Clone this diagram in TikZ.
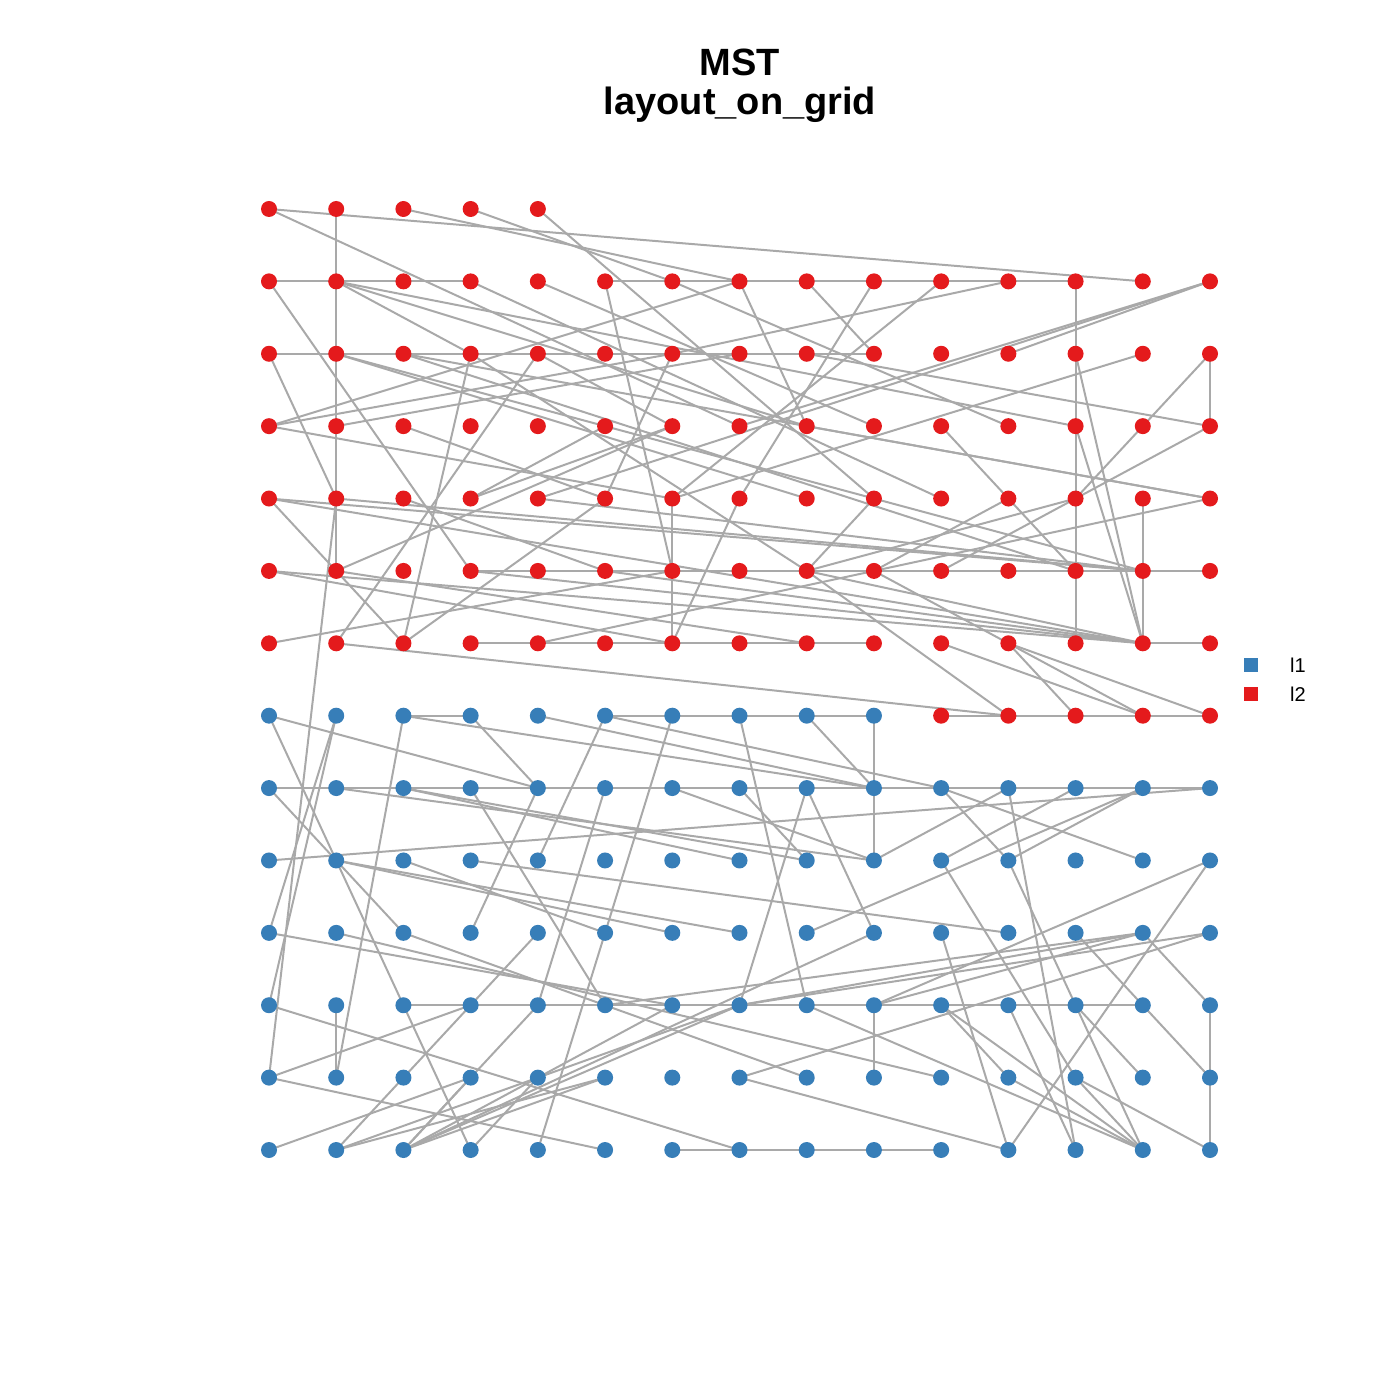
\documentclass[tikz,border=0pt]{standalone}
\usepackage{fontspec}
\setmainfont{Liberation Sans}
\definecolor{redn}{HTML}{E41A1C}
\definecolor{bluen}{HTML}{377EB8}
\definecolor{edgec}{HTML}{A9A9A9}
\begin{document}
\begin{tikzpicture}[x=0.5pt,y=-0.5pt,
  edge/.style={draw=edgec, line width=1pt},
  rdot/.style={circle, fill=redn, inner sep=0pt, minimum size=8pt},
  bdot/.style={circle, fill=bluen, inner sep=0pt, minimum size=8pt},
  ttl/.style={font=\bfseries\fontsize{19}{22}\selectfont, anchor=base},
  leg/.style={font=\fontsize{10}{12}\selectfont, anchor=base west}]
\useasboundingbox (0,0) rectangle (1400,1400);
\foreach \c in {0,...,14}{\foreach \r in {0,...,13}{\coordinate (n-\c-\r) at ({269+67.214*\c},{209+72.385*\r});}}
% edges
\foreach \a/\b in {0-0/13-1,0-0/7-3,1-0/1-1,2-0/7-1,3-0/6-1,4-0/9-4,
 0-1/1-1,1-1/2-1,2-1/3-1,0-1/3-5,1-1/1-2,1-1/3-2,1-1/8-3,1-1/12-3,3-1/10-4,4-1/9-3,
 5-1/6-1,6-1/7-1,7-1/8-1,8-1/9-1,9-1/10-1,10-1/11-1,11-1/12-1,5-1/6-5,6-1/11-3,7-1/8-3,
 0-3/7-1,8-1/9-2,9-1/7-4,10-1/6-4,11-1/6-2,12-1/12-2,14-1/11-2,14-1/7-3,14-1/4-4,
 0-2/1-2,1-2/2-2,2-2/3-2,3-2/4-2,4-2/5-2,5-2/6-2,6-2/7-2,7-2/8-2,8-2/9-2,
 0-2/1-4,1-2/8-4,1-2/13-5,2-2/14-4,2-2/12-5,3-2/8-5,2-6/3-2,1-6/4-2,4-2/6-3,0-3/6-2,
 12-2/12-3,12-2/13-6,14-2/14-3,14-2/12-4,13-2/6-4,1-2/1-3,
 1-3/1-4,0-3/6-4,1-3/7-2,2-3/5-4,12-3/12-4,12-3/13-6,14-3/12-4,
 1-4/1-5,0-4/1-5,0-4/13-5,1-4/0-12,6-4/6-5,12-4/12-5,13-4/13-5,5-4/6-2,
 3-5/4-5,4-5/5-5,5-5/6-5,6-5/7-5,7-5/8-5,8-5/9-5,9-5/10-5,10-5/11-5,11-5/12-5,12-5/13-5,
 12-5/12-6,13-5/13-6,6-5/6-6,
 3-6/4-6,4-6/5-6,5-6/6-6,6-6/7-6,7-6/8-6,8-6/9-6,1-6/11-7,11-6/12-7,
 10-7/11-7,11-7/12-7,12-7/13-7,13-7/14-7,
 2-4/5-5,3-4/6-3,3-4/5-3,1-5/6-3,1-5/2-6,0-5/6-6,0-6/6-5,2-6/5-4,1-5/8-6,
 4-4/13-5,1-4/13-5,8-5/13-6,0-4/13-6,5-5/13-6,3-5/13-6,0-5/13-6,13-6/14-6,13-5/14-5,
 4-6/14-4,8-3/14-4,8-2/14-3,10-3/11-4,11-4/12-5,11-4/9-5,8-5/12-4,10-5/12-4,9-5/11-6,
 11-6/14-7,8-5/11-7,10-6/13-7,11-6/13-7,9-4/8-5,7-4/6-6,
 1-7/0-10,1-7/0-11,2-7/3-7,2-7/9-8,4-7/9-8,2-7/1-12,3-7/4-8,
 5-7/6-7,6-7/7-7,7-7/8-7,8-7/9-7,9-7/9-8,9-8/9-9,5-7/4-9,5-7/10-8,6-7/5-10,7-7/8-11,8-7/9-8,
 0-8/1-8,1-8/2-8,2-8/3-8,3-8/4-8,4-8/5-8,5-8/6-8,6-8/7-8,7-8/8-8,8-8/9-8,9-8/10-8,10-8/11-8,11-8/12-8,12-8/13-8,13-8/14-8,
 0-7/1-9,0-8/1-9,0-7/4-8,1-9/2-11,1-9/2-10,1-9/7-10,0-9/14-8,1-9/6-10,2-8/8-9,2-8/7-9,1-8/9-9,
 3-8/5-11,4-8/3-10,2-9/5-10,3-9/11-10,5-8/4-11,6-8/9-9,7-8/8-9,8-8/7-11,8-8/9-10,
 10-8/11-9,10-8/13-9,12-8/10-9,11-8/12-13,14-9/9-11,14-9/11-13,
 9-9/11-8,8-10/13-8,11-9/13-8,10-9/12-12,11-9/13-13,
 0-10/6-11,1-10/10-12,2-10/8-12,0-11/7-13,1-11/1-12,
 2-11/3-11,3-11/4-11,4-11/5-11,5-11/6-11,6-11/7-11,7-11/8-11,8-11/9-11,9-11/10-11,10-11/11-11,11-11/12-11,12-11/13-11,
 2-11/3-13,4-10/3-11,0-12/3-11,2-12/3-11,0-12/5-13,2-12/1-13,0-13/3-12,1-13/4-12,2-13/4-11,2-13/3-12,3-13/4-12,
 9-11/9-12,14-11/14-12,14-12/14-13,6-13/7-13,7-13/8-13,8-13/9-13,9-13/10-13,
 14-10/7-12,14-10/7-11,12-10/13-11,13-10/14-11,10-10/11-13,2-13/9-10,
 5-11/13-10,7-11/13-10,9-11/13-10,10-11/11-12,11-11/12-13,12-11/13-12,13-11/14-12,
 11-12/13-13,12-12/13-13,12-12/14-13,7-12/11-13,8-11/13-13,10-11/13-13,
 4-13/5-10,1-13/5-12,2-13/6-11,2-13/7-11,2-13/5-12,4-12/7-11}
 {\draw[edge] (n-\a) -- (n-\b);}
% dots
\foreach \c in {0,...,4} \node[rdot] (d-\c-0) at (n-\c-0) {};
\foreach \r in {1,...,6}{\foreach \c in {0,...,14} \node[rdot] (d-\c-\r) at (n-\c-\r) {};}
\foreach \c in {10,...,14} \node[rdot] (d-\c-7) at (n-\c-7) {};
\foreach \c in {0,...,9} \node[bdot] (d-\c-7) at (n-\c-7) {};
\foreach \r in {8,...,13}{\foreach \c in {0,...,14} \node[bdot] (d-\c-\r) at (n-\c-\r) {};}
% title
\node[ttl] (t1) at (740,76) {MST};
\node[ttl] (t2) at (740,115) {layout\_on\_grid};
% legend
\node[fill=bluen, inner sep=0pt, minimum size=7pt] (k1) at (1251,665) {};
\node[fill=redn, inner sep=0pt, minimum size=7pt] (k2) at (1251,694) {};
\node[leg] (l1) at (1283,672) {l1};
\node[leg] (l2) at (1283,701) {l2};
\end{tikzpicture}
\end{document}
